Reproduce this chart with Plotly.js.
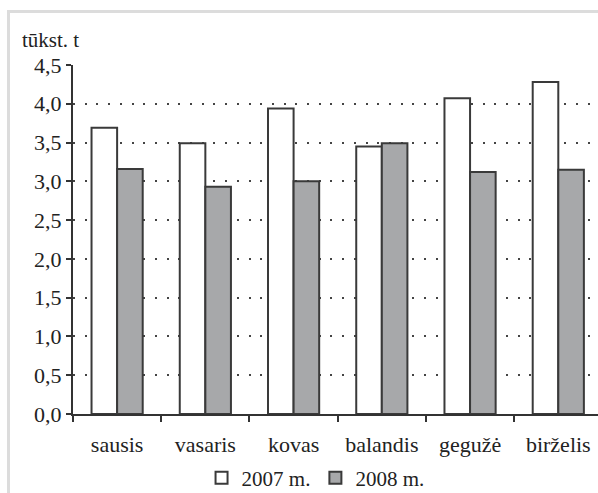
<!DOCTYPE html>
<html>
<head>
<meta charset="utf-8">
<script src="https://cdn.plot.ly/plotly-3.0.1.min.js"></script>
<style>
  body { margin: 0; background: #fff; overflow: hidden; }
  #chart { position: absolute; left: 0; top: 0; width: 598px; height: 493px; }
  #frame { position: absolute; left: 7px; top: 10px; right: 0; bottom: 0;
           border-left: 3px solid #dcdcdc; border-top: 3px solid #dcdcdc; pointer-events: none; }
</style>
</head>
<body>
<div id="chart"></div>
<div id="frame"></div>
<script>
// months (January - June)
var months = ["sausis", "vasaris", "kovas", "balandis", "gegužė", "birželis"];
// thousand tonnes
var values2007 = [3.69, 3.49, 3.94, 3.45, 4.07, 4.28];
var values2008 = [3.16, 2.93, 3.00, 3.49, 3.12, 3.15];
var yTicks = [0, 0.5, 1, 1.5, 2, 2.5, 3, 3.5, 4, 4.5];

var serif = "Liberation Serif";

var trace2007 = {
  x: months,
  y: values2007,
  name: "2007 m.",
  type: "bar",
  marker: { color: "#ffffff", line: { color: "#3a3a3a", width: 2 } },
  hoverinfo: "skip"
};
var trace2008 = {
  x: months,
  y: values2008,
  name: "2008 m.",
  type: "bar",
  marker: { color: "#a7a8aa", line: { color: "#3a3a3a", width: 2 } },
  hoverinfo: "skip"
};

var layout = {
  width: 598,
  height: 493,
  margin: { l: 73, r: 0, t: 65, b: 79, autoexpand: false },
  paper_bgcolor: "#ffffff",
  plot_bgcolor: "#ffffff",
  separators: ", ",
  font: { family: serif, size: 22, color: "#222" },
  barmode: "group",
  bargap: 0.42,
  bargroupgap: 0,
  showlegend: true,
  legend: {
    orientation: "h",
    x: 0.462, xanchor: "center",
    y: -0.184, yanchor: "middle",
    bgcolor: "rgba(0,0,0,0)",
    font: { family: serif, size: 21, color: "#222" },
    itemwidth: 30
  },
  xaxis: {
    type: "category",
    range: [-0.5, 5.45],
    showline: true, linecolor: "#333", linewidth: 2,
    ticks: "outside", tickson: "boundaries", ticklen: 6, tickwidth: 2, tickcolor: "#333",
    ticklabelstandoff: 10,
    showgrid: false,
    automargin: false,
    tickfont: { family: serif, size: 22, color: "#222" }
  },
  yaxis: {
    range: [0, 4.5],
    tickvals: yTicks,
    tickformat: ".1f",
    showline: true, linecolor: "#333", linewidth: 2,
    ticks: "outside", ticklen: 5, tickwidth: 2, tickcolor: "#333",
    showgrid: true, gridcolor: "#444", gridwidth: 2, griddash: "2px,9.7px",
    zeroline: false,
    automargin: false,
    tickfont: { family: serif, size: 22, color: "#222" }
  },
  annotations: [{
    text: "tūkst. t",
    xref: "paper", yref: "paper",
    x: -0.101, xanchor: "left",
    y: 1.072, yanchor: "middle",
    showarrow: false,
    font: { family: serif, size: 21, color: "#222" }
  }]
};

Plotly.newPlot("chart", [trace2007, trace2008], layout, { staticPlot: true });
</script>
</body>
</html>
